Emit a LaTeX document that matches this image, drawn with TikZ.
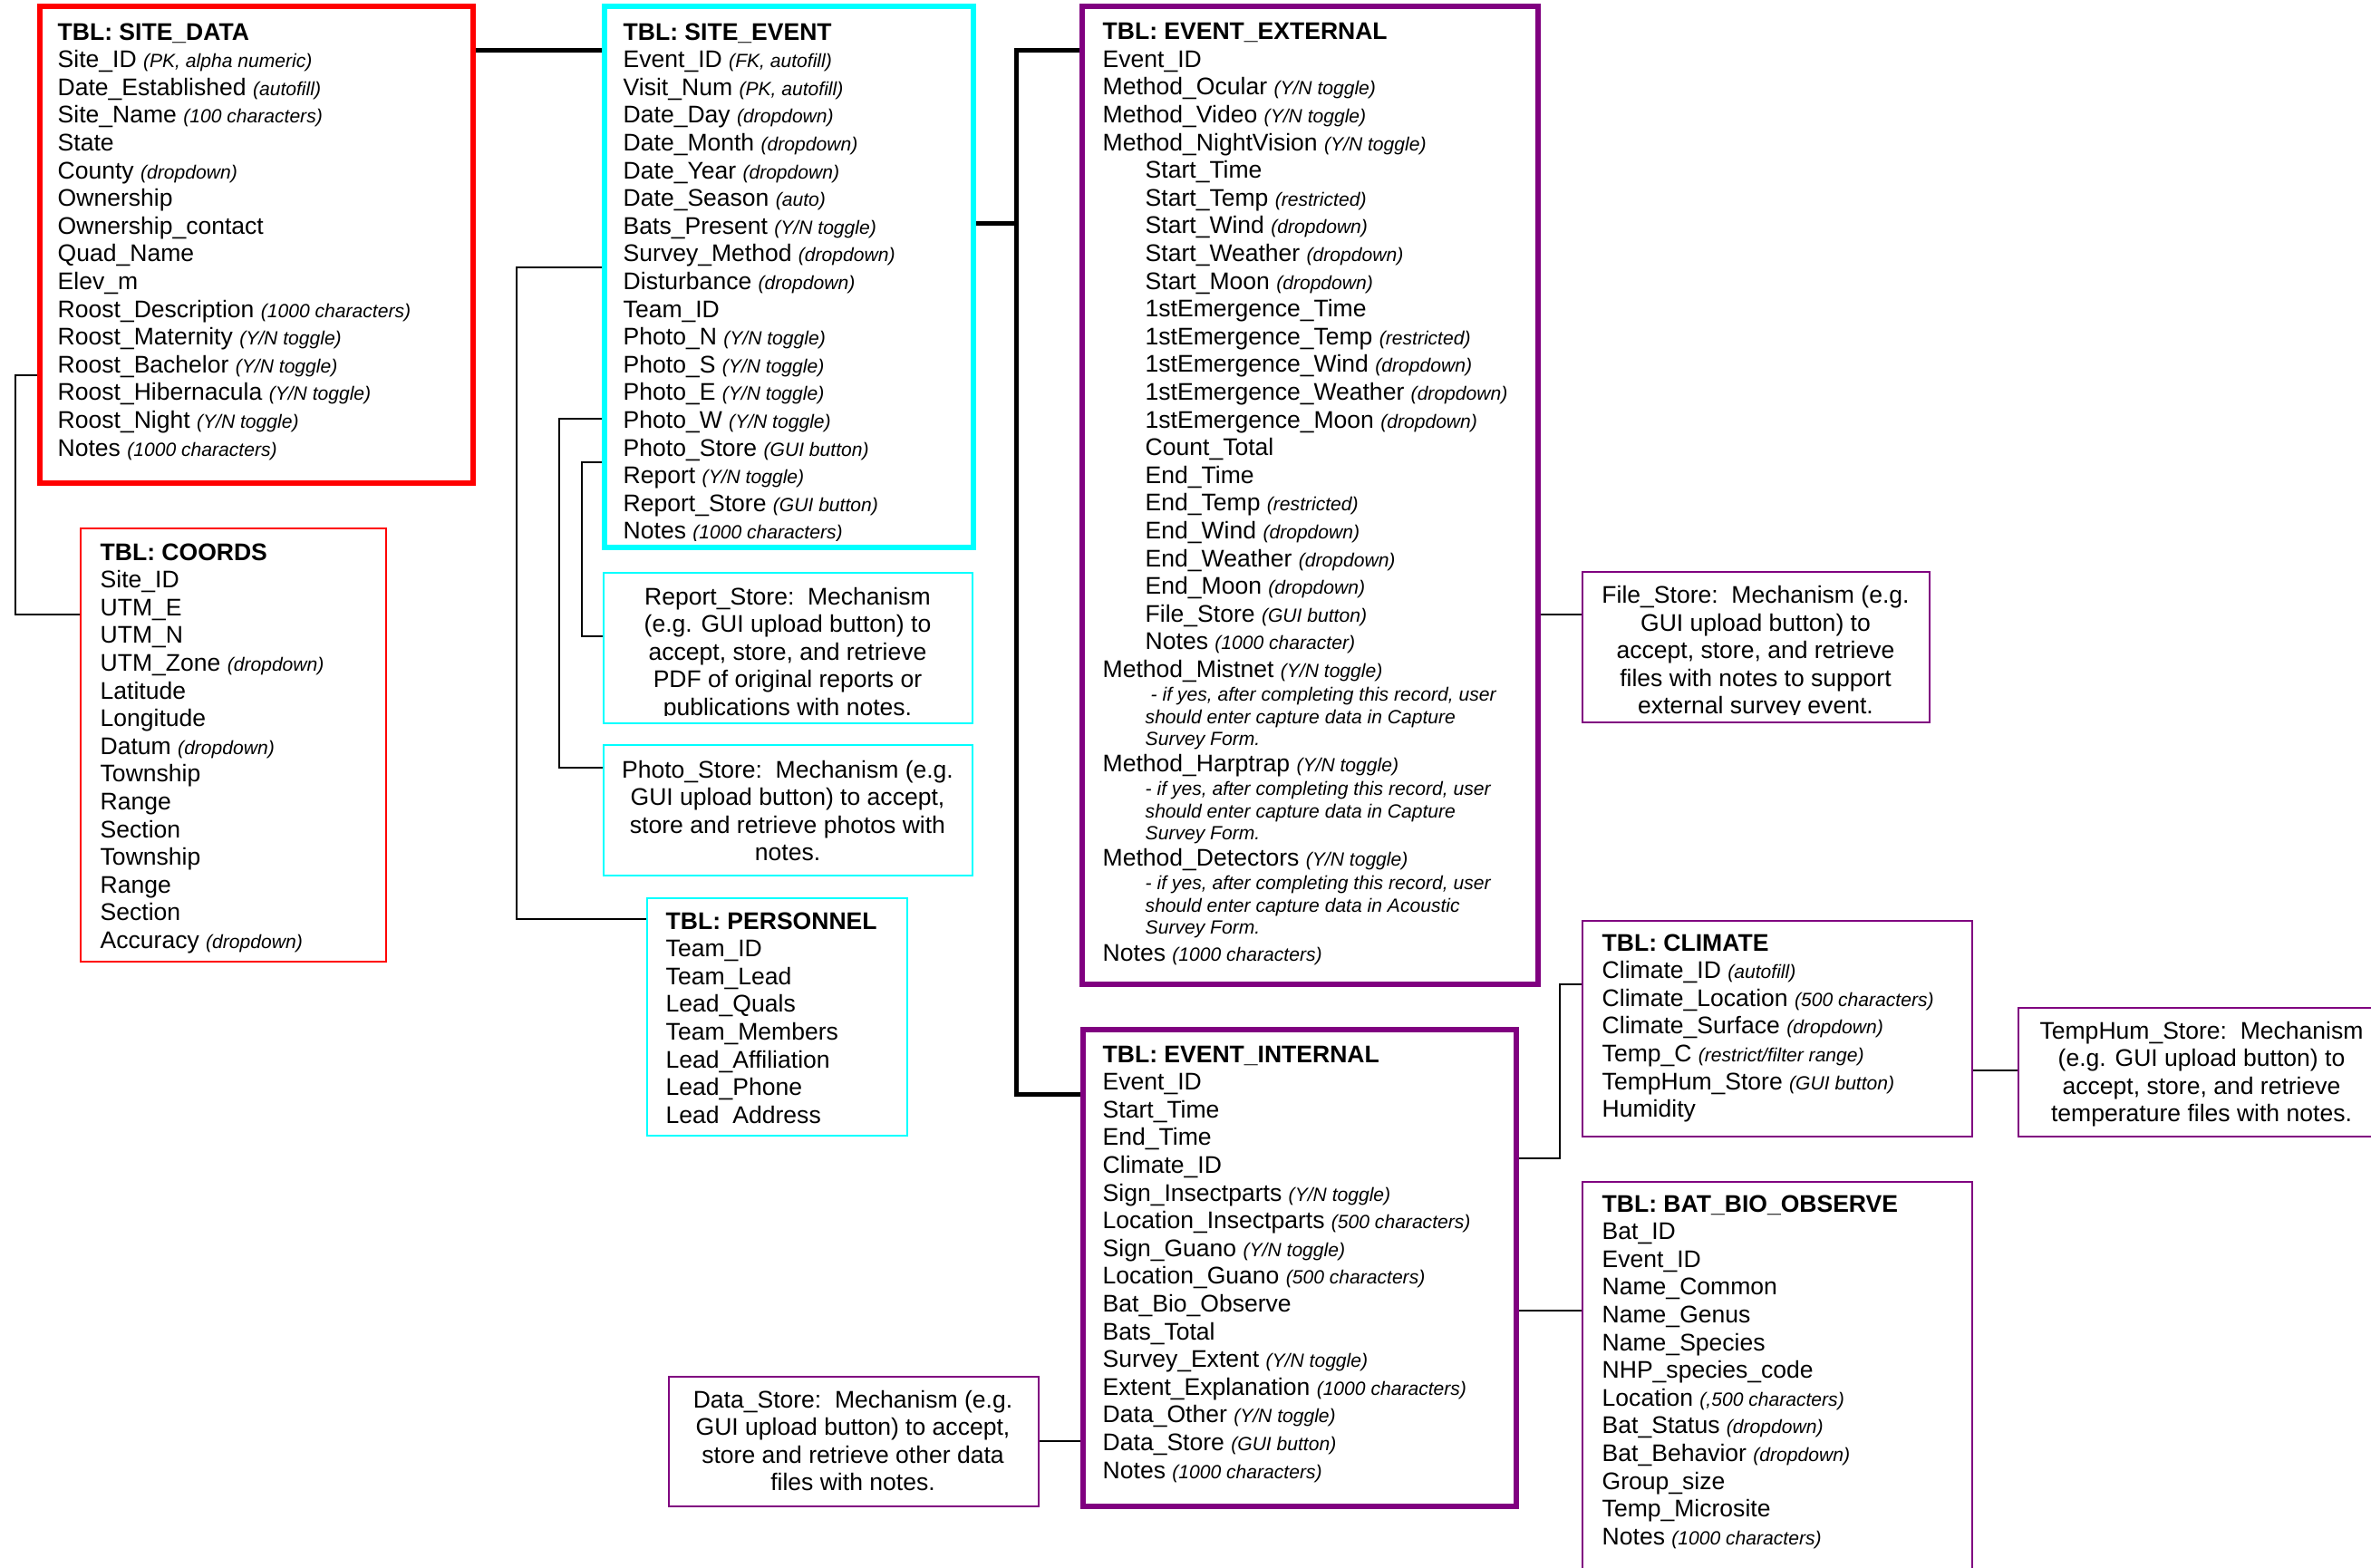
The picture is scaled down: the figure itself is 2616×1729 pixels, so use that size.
\documentclass[tikz,border=0pt]{standalone}
\usepackage{fontspec}
\setmainfont{Liberation Sans}
\usetikzlibrary{fit}

\definecolor{tblred}{RGB}{255,0,0}
\definecolor{tblcyan}{RGB}{0,255,255}
\definecolor{tblpurple}{RGB}{128,0,128}

\newdimen\pix \pix=0.1mm
\newcommand{\fieldlist}[1]{\vtop{\baselineskip=30.6\pix\lineskiplimit=-\maxdimen#1}}
\newcommand{\notelines}[1]{\vtop{\baselineskip=30.5\pix\lineskiplimit=-\maxdimen\halign{\hfil##\hfil\cr#1\crcr}}}
\newcommand{\fld}[1]{\hbox{#1}}
\newcommand{\subfld}[1]{\hbox{\hskip47\pix#1}}
\newcommand{\optnote}[1]{{\fontsize{6pt}{7pt}\selectfont\itshape#1}}
\newcommand{\hintlines}[3]{%
	\baselineskip=26.3\pix\subfld{\optnote{#1}}%
	\baselineskip=24.5\pix\subfld{\optnote{#2}}\subfld{\optnote{#3}}%
	\baselineskip=28.8\pix}

\begin{document}
\begin{tikzpicture}[x=0.1mm,y=-0.1mm,
		font=\fontsize{7.55pt}{8.7pt}\selectfont,
		tblframe/.style={draw=#1,line width=0.6mm,inner sep=0pt},
		noteframe/.style={draw=#1,line width=0.25mm,inner sep=0pt},
		fieldtext/.style={inner sep=0pt,anchor=base west},
		notetext/.style={inner sep=0pt,anchor=base},
		mainline/.style={line width=0.5mm},
		relline/.style={line width=0.2mm}]
		\useasboundingbox (0,0) rectangle (2616,1729);
		
		%frames
		\node[tblframe=tblred,fit={(44,7) (522,533)}] (sitedata) {};
		\node[tblframe=tblcyan,fit={(667,7) (1074,604)}] (siteevent) {};
		\node[tblframe=tblpurple,fit={(1194,7) (1697,1086)}] (eventext) {};
		\node[tblframe=tblpurple,fit={(1195,1136) (1673,1662)}] (eventint) {};
		\node[noteframe=tblred,fit={(89,583) (426,1061)}] (coords) {};
		\node[noteframe=tblcyan,fit={(666,632) (1073,798)}] (reportnote) {};
		\node[noteframe=tblcyan,fit={(666,822) (1073,966)}] (photonote) {};
		\node[noteframe=tblcyan,fit={(714,991) (1001,1253)}] (personnel) {};
		\node[noteframe=tblpurple,fit={(1746,631) (2129,797)}] (filenote) {};
		\node[noteframe=tblpurple,fit={(1746,1016) (2176,1254)}] (climate) {};
		\node[noteframe=tblpurple,fit={(2227,1112) (2631,1254)}] (temphum) {};
		\node[noteframe=tblpurple,fit={(1746,1304) (2176,1760)}] (batbio) {};
		\node[noteframe=tblpurple,fit={(738,1519) (1146,1662)}] (datanote) {};
		
		%tables
		\node[fieldtext] (sitedata-txt) at (63,44) {\fieldlist{
				\fld{\bfseries TBL: SITE\_DATA}
				\fld{Site\_ID \optnote{(PK, alpha numeric)}}
				\fld{Date\_Established \optnote{(autofill)}}
				\fld{Site\_Name \optnote{(100 characters)}}
				\fld{State}
				\fld{County \optnote{(dropdown)}}
				\fld{Ownership}
				\fld{Ownership\_contact}
				\fld{Quad\_Name}
				\fld{Elev\_m}
				\fld{Roost\_Description \optnote{(1000 characters)}}
				\fld{Roost\_Maternity \optnote{(Y/N toggle)}}
				\fld{Roost\_Bachelor \optnote{(Y/N toggle)}}
				\fld{Roost\_Hibernacula \optnote{(Y/N toggle)}}
				\fld{Roost\_Night \optnote{(Y/N toggle)}}
				\fld{Notes \optnote{(1000 characters)}}}};
		
		\begin{scope}
			\clip ([shift={(3,3)}]siteevent.north west) rectangle ([shift={(-3,-11)}]siteevent.south east);
			\node[fieldtext] (siteevent-txt) at (687,44) {\fieldlist{
					\fld{\bfseries TBL: SITE\_EVENT}
					\fld{Event\_ID \optnote{(FK, autofill)}}
					\fld{Visit\_Num \optnote{(PK, autofill)}}
					\fld{Date\_Day \optnote{(dropdown)}}
					\fld{Date\_Month \optnote{(dropdown)}}
					\fld{Date\_Year \optnote{(dropdown)}}
					\fld{Date\_Season \optnote{(auto)}}
					\fld{Bats\_Present \optnote{(Y/N toggle)}}
					\fld{Survey\_Method \optnote{(dropdown)}}
					\fld{Disturbance \optnote{(dropdown)}}
					\fld{Team\_ID}
					\fld{Photo\_N \optnote{(Y/N toggle)}}
					\fld{Photo\_S \optnote{(Y/N toggle)}}
					\fld{Photo\_E \optnote{(Y/N toggle)}}
					\fld{Photo\_W \optnote{(Y/N toggle)}}
					\fld{Photo\_Store \optnote{(GUI button)}}
					\fld{Report \optnote{(Y/N toggle)}}
					\fld{Report\_Store \optnote{(GUI button)}}
					\fld{Notes \optnote{(1000 characters)}}}};
		\end{scope}
		
		\node[fieldtext] (eventext-txt) at (1216,43.6) {\fieldlist{
				\fld{\bfseries TBL: EVENT\_EXTERNAL}
				\fld{Event\_ID}
				\fld{Method\_Ocular \optnote{(Y/N toggle)}}
				\fld{Method\_Video \optnote{(Y/N toggle)}}
				\fld{Method\_NightVision \optnote{(Y/N toggle)}}
				\subfld{Start\_Time}
				\subfld{Start\_Temp \optnote{(restricted)}}
				\subfld{Start\_Wind \optnote{(dropdown)}}
				\subfld{Start\_Weather \optnote{(dropdown)}}
				\subfld{Start\_Moon \optnote{(dropdown)}}
				\subfld{1stEmergence\_Time}
				\subfld{1stEmergence\_Temp \optnote{(restricted)}}
				\subfld{1stEmergence\_Wind \optnote{(dropdown)}}
				\subfld{1stEmergence\_Weather \optnote{(dropdown)}}
				\subfld{1stEmergence\_Moon \optnote{(dropdown)}}
				\subfld{Count\_Total}
				\subfld{End\_Time}
				\subfld{End\_Temp \optnote{(restricted)}}
				\subfld{End\_Wind \optnote{(dropdown)}}
				\subfld{End\_Weather \optnote{(dropdown)}}
				\subfld{End\_Moon \optnote{(dropdown)}}
				\subfld{File\_Store \optnote{(GUI button)}}
				\subfld{Notes \optnote{(1000 character)}}
				\fld{Method\_Mistnet \optnote{(Y/N toggle)}}
				\hintlines{\hskip6\pix- if yes, after completing this record, user}{should enter capture data in Capture}{Survey Form.}
				\fld{Method\_Harptrap \optnote{(Y/N toggle)}}
				\hintlines{- if yes, after completing this record, user}{should enter capture data in Capture}{Survey Form.}
				\fld{Method\_Detectors \optnote{(Y/N toggle)}}
				\hintlines{- if yes, after completing this record, user}{should enter capture data in Acoustic}{Survey Form.}
				\baselineskip=30\pix
				\fld{Notes \optnote{(1000 characters)}}}};
		
		\node[fieldtext] (coords-txt) at (110,618) {\fieldlist{
				\fld{\bfseries TBL: COORDS}
				\fld{Site\_ID}
				\fld{UTM\_E}
				\fld{UTM\_N}
				\fld{UTM\_Zone \optnote{(dropdown)}}
				\fld{Latitude}
				\fld{Longitude}
				\fld{Datum \optnote{(dropdown)}}
				\fld{Township}
				\fld{Range}
				\fld{Section}
				\fld{Township}
				\fld{Range}
				\fld{Section}
				\fld{Accuracy \optnote{(dropdown)}}}};
		
		\node[fieldtext] (personnel-txt) at (734,1025) {\fieldlist{
				\fld{\bfseries TBL: PERSONNEL}
				\fld{Team\_ID}
				\fld{Team\_Lead}
				\fld{Lead\_Quals}
				\fld{Team\_Members}
				\fld{Lead\_Affiliation}
				\fld{Lead\_Phone}
				\fld{Lead\ \ Address}}};
		
		\node[fieldtext] (climate-txt) at (1767,1049) {\fieldlist{
				\fld{\bfseries TBL: CLIMATE}
				\fld{Climate\_ID \optnote{(autofill)}}
				\fld{Climate\_Location \optnote{(500 characters)}}
				\fld{Climate\_Surface \optnote{(dropdown)}}
				\fld{Temp\_C \optnote{(restrict/filter range)}}
				\fld{TempHum\_Store \optnote{(GUI button)}}
				\fld{Humidity}}};
		
		\node[fieldtext] (eventint-txt) at (1216,1172) {\fieldlist{
				\fld{\bfseries TBL: EVENT\_INTERNAL}
				\fld{Event\_ID}
				\fld{Start\_Time}
				\fld{End\_Time}
				\fld{Climate\_ID}
				\fld{Sign\_Insectparts \optnote{(Y/N toggle)}}
				\fld{Location\_Insectparts \optnote{(500 characters)}}
				\fld{Sign\_Guano \optnote{(Y/N toggle)}}
				\fld{Location\_Guano \optnote{(500 characters)}}
				\fld{Bat\_Bio\_Observe}
				\fld{Bats\_Total}
				\fld{Survey\_Extent \optnote{(Y/N toggle)}}
				\fld{Extent\_Explanation \optnote{(1000 characters)}}
				\fld{Data\_Other \optnote{(Y/N toggle)}}
				\fld{Data\_Store \optnote{(GUI button)}}
				\fld{Notes \optnote{(1000 characters)}}}};
		
		\node[fieldtext] (batbio-txt) at (1767,1337) {\fieldlist{
				\fld{\bfseries TBL: BAT\_BIO\_OBSERVE}
				\fld{Bat\_ID}
				\fld{Event\_ID}
				\fld{Name\_Common}
				\fld{Name\_Genus}
				\fld{Name\_Species}
				\fld{NHP\_species\_code}
				\fld{Location \optnote{(,500 characters)}}
				\fld{Bat\_Status \optnote{(dropdown)}}
				\fld{Bat\_Behavior \optnote{(dropdown)}}
				\fld{Group\_size}
				\fld{Temp\_Microsite}
				\fld{Notes \optnote{(1000 characters)}}}};
		
		%store notes
		\begin{scope}
			\clip ([shift={(1,1)}]reportnote.north west) rectangle ([shift={(-1,-10)}]reportnote.south east);
			\node[notetext] (reportnote-txt) at (869,667) {\notelines{
					Report\_Store:\ \ Mechanism\cr
					(e.g. GUI upload button) to\cr
					accept, store, and retrieve\cr
					PDF of original reports or\cr
					publications with notes.}};
		\end{scope}
		\node[notetext] (photonote-txt) at (869,858) {\notelines{
				Photo\_Store:\ \ Mechanism (e.g.\cr
				GUI upload button) to accept,\cr
				store and retrieve photos with\cr
				notes.}};
		\begin{scope}
			\clip ([shift={(1,1)}]filenote.north west) rectangle ([shift={(-1,-10)}]filenote.south east);
			\node[notetext] (filenote-txt) at (1937,665.5) {\notelines{
					File\_Store:\ \ Mechanism (e.g.\cr
					GUI upload button) to\cr
					accept, store, and retrieve\cr
					files with notes to support\cr
					external survey event.}};
		\end{scope}
		\node[notetext] (temphum-txt) at (2429,1146) {\notelines{
				TempHum\_Store:\ \ Mechanism\cr
				(e.g. GUI upload button) to\cr
				accept, store, and retrieve\cr
				temperature files with notes.}};
		\node[notetext] (datanote-txt) at (941,1553) {\notelines{
				Data\_Store:\ \ Mechanism (e.g.\cr
				GUI upload button) to accept,\cr
				store and retrieve other data\cr
				files with notes.}};
		
		%main links
		\coordinate (busT) at (1121,55);
		\coordinate (busB) at (1121,1207);
		\draw[mainline] (sitedata.east |- busT) -- (siteevent.west |- busT);
		\draw[mainline] (siteevent.east |- 0,246) -- (busT |- 0,246);
		\draw[mainline] (eventext.west |- busT) -- (busT) -- (busB) -- (eventint.west |- busB);
		
		%side links
		\draw[relline] (sitedata.west |- 0,414) -| (17,678) -- (coords.west |- 0,678);
		\foreach \y/\x/\ty/\n in {295/570/1014/personnel,462/617/847/photonote,510/642/702/reportnote}
			\draw[relline] (siteevent.west |- 0,\y) -| (\x,\ty) -- (\n.west |- 0,\ty);
		\draw[relline] (eventext.east |- 0,678) -- (filenote.west |- 0,678);
		\draw[relline] (eventint.east |- 0,1278) -| (1721,1086) -- (climate.west |- 0,1086);
		\draw[relline] (eventint.east |- 0,1446) -- (batbio.west |- 0,1446);
		\draw[relline] (climate.east |- 0,1181) -- (temphum.west |- 0,1181);
		\draw[relline] (datanote.east |- 0,1590) -- (eventint.west |- 0,1590);
		
	\end{tikzpicture}
\end{document}
